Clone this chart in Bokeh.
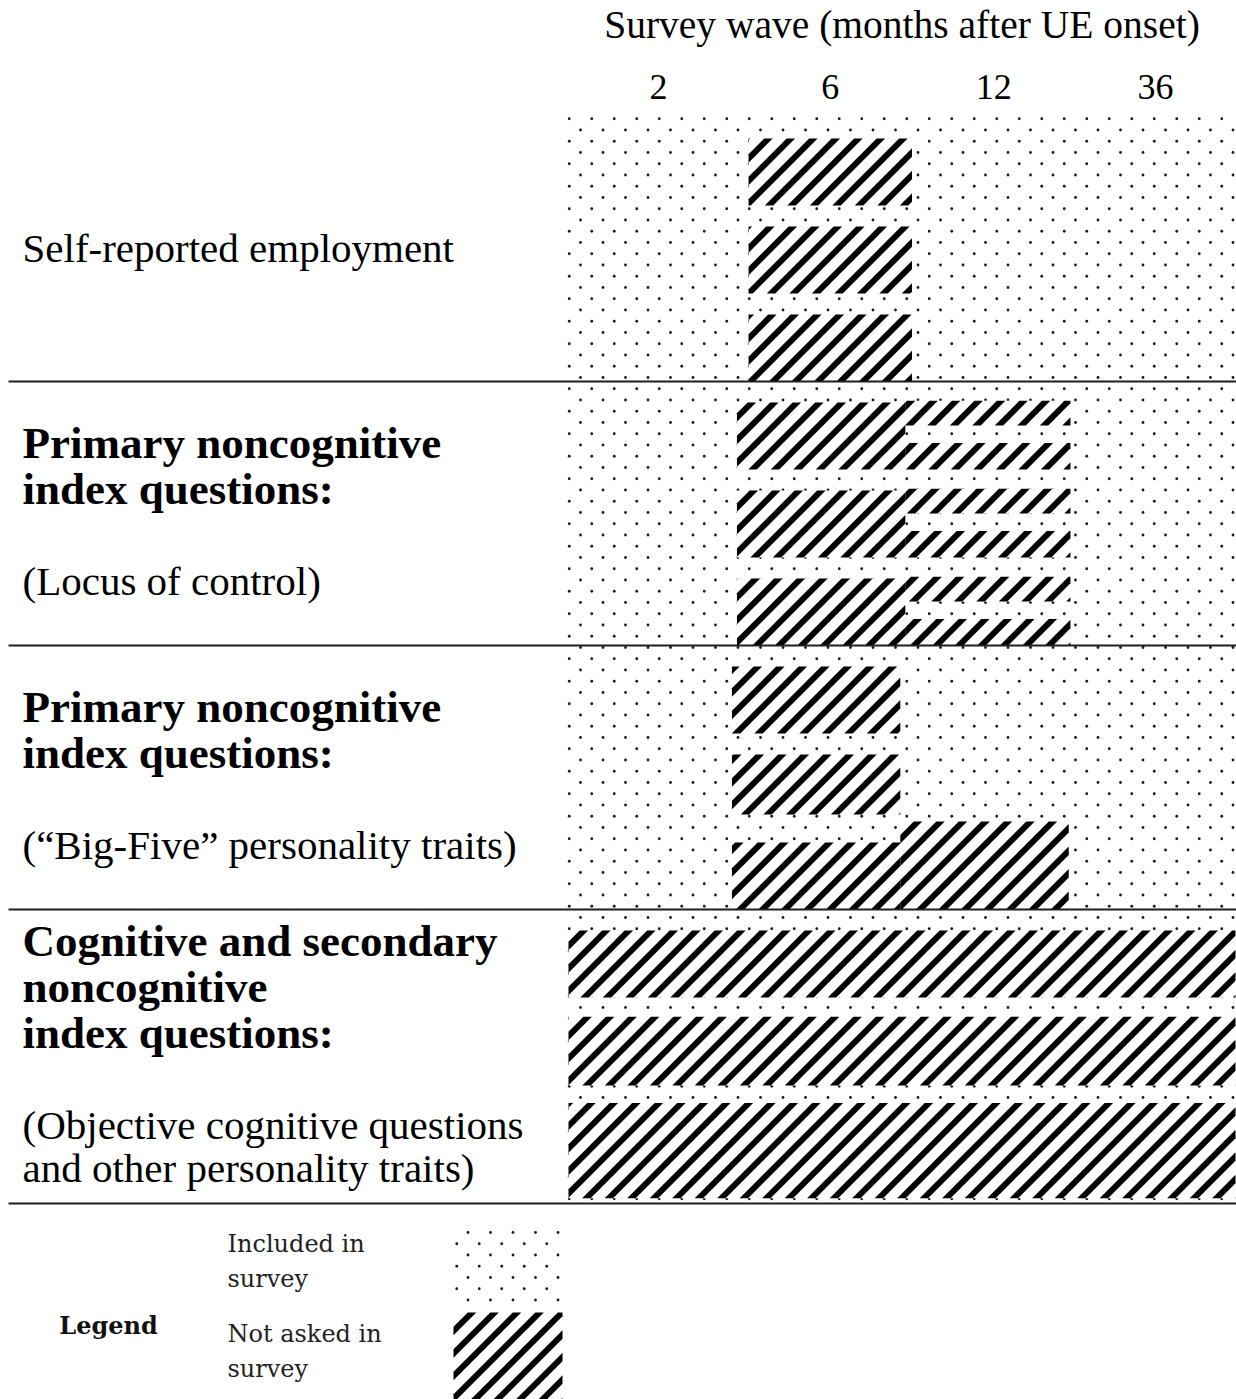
import math
from bokeh.plotting import figure
from bokeh.models import Range1d
from bokeh.core.properties import value
from bokeh.embed import file_html
from bokeh.resources import INLINE

# ---------------- data ----------------
waves = ["2", "6", "12", "36"]
wave_label_x = [0.54, 1.57, 2.55, 3.52]          # label centres, in wave-column units
axis_title = "Survey wave (months after UE onset)"

section_bold_lines = [
    [],
    ["Primary noncognitive", "index questions:"],
    ["Primary noncognitive", "index questions:"],
    ["Cognitive and secondary", "noncognitive", "index questions:"],
]
section_plain_lines = [
    ["Self-reported employment"],
    ["(Locus of control)"],
    ["(\u201cBig-Five\u201d personality traits)"],
    ["(Objective cognitive questions", "and other personality traits)"],
]
section_rows = [3.0, 3.0, 3.0, 3.34]                # height of each block, in item rows

# "Not asked in survey" blocks: section, item, wave span, vertical span within item row
na_section = [0, 0, 0, 1, 1, 1, 1, 1, 1, 1, 1, 1, 2, 2, 2, 2, 3, 3, 3]
na_item    = [0, 1, 2, 0, 1, 2, 0, 0, 1, 1, 2, 2, 0, 1, 2, 2, 0, 1, 2]
na_start   = [1.08] * 3 + [1.01] * 3 + [2.02] * 6 + [0.98] * 3 + [1.99] + [0.0] * 3
na_end     = [2.06] * 3 + [2.02] * 3 + [3.01] * 6 + [1.99] * 3 + [3.00] + [4.0] * 3
na_from    = [0.24] * 3 + [0.24] * 3 + [0.22, 0.70] * 3 + [0.24] * 3 + [0.0] + [0.24, 0.22, 0.20]
na_to      = [1.0] * 3 + [1.0] * 3 + [0.50, 1.0] * 3 + [1.0, 0.92, 1.0] + [1.0] + [1.0, 1.0, 1.28]

legend_title = "Legend"
legend_labels = [["Included in", "survey"], ["Not asked in", "survey"]]

# ---------------- layout ----------------
W, H = 1236, 1399
ROW = 88.0          # px per item row
COL = 166.75        # px per wave column
PLOT_LEFT = 568     # px from canvas left to first wave column
TOP = 117           # px from canvas top to first section

x_start = -PLOT_LEFT / COL
x_end = x_start + W / COL
y_top = -TOP / ROW
y_bottom = y_top + H / ROW


def vy(px):
    return px / ROW


def hx(px):
    return px / COL


def to_px(x, y):
    return PLOT_LEFT + x * COL, TOP + y * ROW


def to_data(X, Y):
    return (X - PLOT_LEFT) / COL, (Y - TOP) / ROW


SERIF = value("Liberation Serif")
LEG_FONT = value("DejaVu Serif")

# texture geometry (screen px)
DOT_STEP = 22.5
DOT_ORIGIN = (580.0, 129.5)
STRIPE_STEP = 22.5
STRIPE_PHASE = 6.0
STRIPE_W = 6.0


def dot_texture(x0, x1, y0, y1):
    """lattice dots inside a data-space rectangle"""
    X0, Y0 = to_px(x0, y0)
    X1, Y1 = to_px(x1, y1)
    X0, X1 = min(X0, X1), max(X0, X1)
    Y0, Y1 = min(Y0, Y1), max(Y0, Y1)
    xs, ys = [], []
    half = DOT_STEP / 2
    j0 = math.floor((Y0 - DOT_ORIGIN[1]) / half) - 1
    j1 = math.ceil((Y1 - DOT_ORIGIN[1]) / half) + 1
    for j in range(j0, j1 + 1):
        Y = DOT_ORIGIN[1] + j * half
        if not (Y0 - 1 <= Y < Y1 - 1):
            continue
        off = half if j % 2 else 0.0
        i0 = math.floor((X0 - DOT_ORIGIN[0] - off) / DOT_STEP) - 1
        i1 = math.ceil((X1 - DOT_ORIGIN[0] - off) / DOT_STEP) + 1
        for i in range(i0, i1 + 1):
            X = DOT_ORIGIN[0] + off + i * DOT_STEP
            if X0 - 0.5 <= X <= X1 + 0.5:
                dx, dy = to_data(X, Y)
                xs.append(dx)
                ys.append(dy)
    return xs, ys


def clip(poly, f):
    out = []
    n = len(poly)
    for i in range(n):
        P, Q = poly[i], poly[(i + 1) % n]
        fp, fq = f(P), f(Q)
        if fp >= 0:
            out.append(P)
        if (fp >= 0) != (fq >= 0):
            t = fp / (fp - fq)
            out.append((P[0] + t * (Q[0] - P[0]), P[1] + t * (Q[1] - P[1])))
    return out


def stripe_texture(x0, x1, y0, y1):
    """45 degree '/' stripes clipped to a data-space rectangle"""
    X0, Y0 = to_px(x0, y0)
    X1, Y1 = to_px(x1, y1)
    X0, X1 = min(X0, X1), max(X0, X1)
    Y0, Y1 = min(Y0, Y1), max(Y0, Y1)
    rect = [(X0, Y0), (X1, Y0), (X1, Y1), (X0, Y1)]
    half = STRIPE_W * math.sqrt(2) / 2
    pxs, pys = [], []
    k0 = math.floor((X0 + Y0 - half - STRIPE_PHASE) / STRIPE_STEP) - 1
    k1 = math.ceil((X1 + Y1 + half - STRIPE_PHASE) / STRIPE_STEP) + 1
    for k in range(k0, k1 + 1):
        c = STRIPE_PHASE + k * STRIPE_STEP
        lo, hi = c - half, c + half
        poly = clip(rect, lambda p: p[0] + p[1] - lo)
        if len(poly) < 3:
            continue
        poly = clip(poly, lambda p: hi - p[0] - p[1])
        if len(poly) < 3:
            continue
        pts = [to_data(X, Y) for X, Y in poly]
        pxs.append([q[0] for q in pts])
        pys.append([q[1] for q in pts])
    return pxs, pys


p = figure(width=W, height=H, x_range=Range1d(x_start, x_end), y_range=Range1d(y_bottom, y_top),
           output_backend="svg", toolbar_location=None, x_axis_location=None, y_axis_location=None,
           min_border=0, min_border_left=0, min_border_right=0, min_border_top=0, min_border_bottom=0)
p.grid.visible = False
p.outline_line_color = None
p.background_fill_color = "white"
p.border_fill_color = "white"

sec_start = []
acc = 0.0
for h in section_rows:
    sec_start.append(acc)
    acc += h
sec_end = [s + h for s, h in zip(sec_start, section_rows)]
n_w = len(waves)

# included-in-survey background for each block (dotted)
p.quad(left=[0.0] * len(sec_start), right=[n_w] * len(sec_start), top=sec_start, bottom=sec_end,
       fill_color="white", line_color=None)
dx, dy = [], []
for s0, s1 in zip(sec_start, sec_end):
    a, b = dot_texture(0.0, n_w, s0, s1)
    dx += a
    dy += b

# legend geometry
base = sec_end[-1]
leg_x0, leg_x1 = hx(453 - 568), hx(562 - 568)
leg_inc = (base + vy(23), base + vy(104))
leg_na = (base + vy(109), base + vy(200))
a, b = dot_texture(leg_x0, leg_x1, *leg_inc)
dx += a
dy += b
p.scatter(x=dx, y=dy, marker="circle", size=2.8, fill_color="#1a1a1a", line_color=None)

# not-asked blocks (white, then stripes)
tops = [sec_start[s] + i + f for s, i, f in zip(na_section, na_item, na_from)]
bots = [sec_start[s] + i + t for s, i, t in zip(na_section, na_item, na_to)]
p.quad(left=na_start, right=na_end, top=tops, bottom=bots, fill_color="white", line_color=None)
p.quad(left=[leg_x0], right=[leg_x1], top=[leg_na[0]], bottom=[leg_na[1]], fill_color="white", line_color=None)
sx, sy = [], []
for l, r, t, bt in zip(na_start + [leg_x0], na_end + [leg_x1], tops + [leg_na[0]], bots + [leg_na[1]]):
    a, b = stripe_texture(l, r, t, bt)
    sx += a
    sy += b
p.patches(xs=sx, ys=sy, fill_color="black", line_color=None)

# separators
p.segment(x0=[hx(8 - 568)] * len(sec_end), x1=[x_end] * len(sec_end), y0=sec_end, y1=sec_end,
          line_color="#1e1e1e", line_width=2)

# header
p.text(x=[n_w / 2], y=[vy(24 - 117)], text=[axis_title], text_font=SERIF,
       text_font_size="39.5px", text_align="center", text_baseline="middle", text_color="black")
p.text(x=wave_label_x, y=[vy(86 - 117)] * n_w, text=waves, text_font=SERIF,
       text_font_size="36px", text_align="center", text_baseline="middle", text_color="black")

# section labels
bx, by, bt, rx, ry, rt = [], [], [], [], [], []
label_x = hx(22 - 568)
for s in range(len(section_rows)):
    lines = []
    pos = 0.0
    prev = None
    for t in section_bold_lines[s]:
        if prev is not None:
            pos += 46
        lines.append((t, True, pos))
        prev = "b"
    for t in section_plain_lines[s]:
        if prev == "b":
            pos += 92
        elif prev == "p":
            pos += 43
        lines.append((t, False, pos))
        prev = "p"
    mid = (lines[0][2] + lines[-1][2]) / 2
    centre = (sec_start[s] + sec_end[s]) / 2 - vy(2)
    for t, bold, ps in lines:
        yy = centre + vy(ps - mid)
        if bold:
            bx.append(label_x); by.append(yy); bt.append(t)
        else:
            rx.append(label_x); ry.append(yy); rt.append(t)

p.text(x=bx, y=by, text=bt, text_font=SERIF, text_font_size="45px", text_font_style="bold",
       text_align="left", text_baseline="middle", text_color="black")
p.text(x=rx, y=ry, text=rt, text_font=SERIF, text_font_size="41px",
       text_align="left", text_baseline="middle", text_color="black")

# legend texts
p.text(x=[hx(108 - 568)], y=[base + vy(122)], text=[legend_title], text_font=LEG_FONT,
       text_font_size="24px", text_font_style="bold", text_align="center",
       text_baseline="middle", text_color="#111111")
lx, ly, lt = [], [], []
for k, lab in enumerate(legend_labels):
    for j, t in enumerate(lab):
        lx.append(hx(227 - 568))
        ly.append(base + vy(41 + 90 * k + 35 * j))
        lt.append(t)
p.text(x=lx, y=ly, text=lt, text_font=LEG_FONT, text_font_size="24px",
       text_align="left", text_baseline="middle", text_color="#222222")

open("out.html", "w").write(file_html(p, INLINE))
